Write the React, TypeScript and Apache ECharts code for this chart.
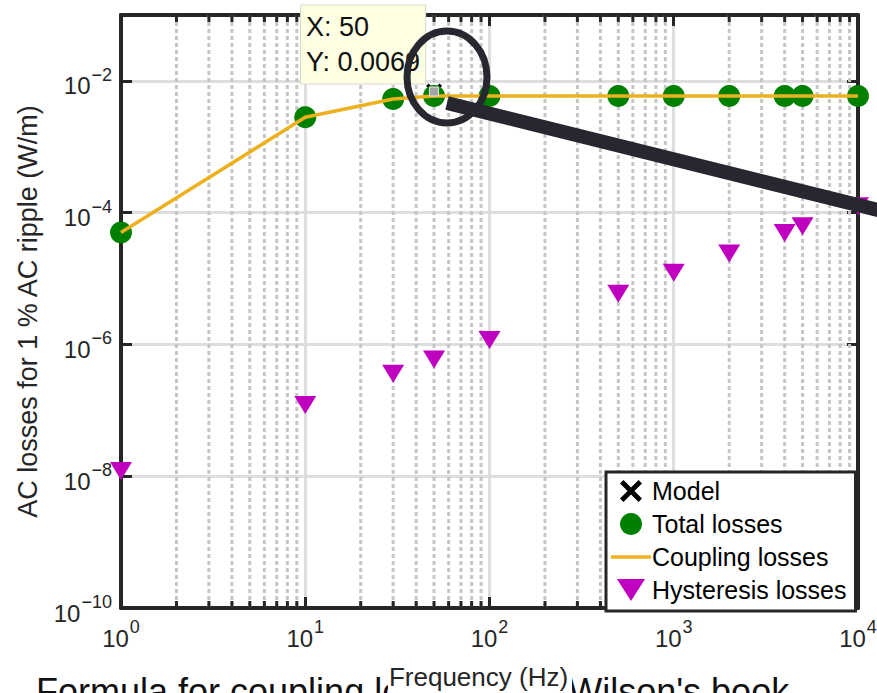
import React, { useEffect, useRef } from "react";
import * as echarts from "echarts";

// Frequency sweep (Hz) and the losses per metre for a 1 % AC ripple
const frequency = [1, 10, 30, 50, 100, 500, 1000, 2000, 4000, 5000, 10000];
const totalLosses = [5.0e-5, 2.8e-3, 5.3e-3, 5.9e-3, 5.9e-3, 5.9e-3, 5.9e-3, 5.9e-3, 5.9e-3, 5.9e-3, 5.9e-3];
const couplingLosses = [5.0e-5, 2.8e-3, 5.3e-3, 5.9e-3, 5.9e-3, 5.9e-3, 5.9e-3, 5.9e-3, 5.9e-3, 5.9e-3, 5.9e-3];
const hysteresisLosses = [1.2e-8, 1.2e-7, 3.6e-7, 5.9e-7, 1.17e-6, 5.9e-6, 1.23e-5, 2.4e-5, 4.9e-5, 6.2e-5, 1.25e-4];
const modelPoint = [50, 0.0069];

// Axis extents and the decades that carry dotted minor grid lines
const xRange = [1, 10000];
const yRange = [1e-10, 1e-1];
const decades = [1, 10, 100, 1000];
const minorMultipliers = [2, 3, 4, 5, 6, 7, 8, 9];

const FONT = "'Liberation Sans', Arial, Helvetica, sans-serif";
const AXIS_COLOR = "#262626";
const GRID_COLOR = "#dedede";
const MINOR_COLOR = "#c6c6c6";

const X_ICON = "path://M0,2.5L2.5,0L8,5.5L13.5,0L16,2.5L10.5,8L16,13.5L13.5,16L8,10.5L2.5,16L0,13.5L5.5,8Z";
const TRI_ICON = "path://M0,0L23,0L11.5,18Z";
const LINE_ICON = "path://M0,0L40,0L40,3.5L0,3.5Z";

const powerLabel = (v: number) => {
  const e = Math.round(Math.log10(v));
  return `{base|10}{exp|${e < 0 ? "\u2212" + -e : e}}`;
};

const powerRich = {
  base: { fontSize: 24, fontFamily: FONT, color: AXIS_COLOR, verticalAlign: "bottom", lineHeight: 26 },
  exp: { fontSize: 18, fontFamily: FONT, color: AXIS_COLOR, verticalAlign: "bottom", lineHeight: 18, padding: [0, 0, 14, 1] },
};

export default function App() {
  const ref = useRef<HTMLDivElement>(null);

  useEffect(() => {
    if (!ref.current) return;
    const chart = echarts.init(ref.current, null, { renderer: "svg" });
    const minorX = decades.flatMap((d) => minorMultipliers.map((m) => [m * d, yRange[0]]));

    const frame = {
      axisLine: { show: true, lineStyle: { color: AXIS_COLOR, width: 4 } },
      axisTick: { show: true, inside: true, length: 11, lineStyle: { color: AXIS_COLOR, width: 3 } },
    };

    chart.setOption({
      animation: false,
      grid: { left: 121, right: 19, top: 15, bottom: 85, containLabel: false, outerBoundsMode: "none" },
      xAxis: [
        {
          type: "log",
          logBase: 10,
          min: xRange[0],
          max: xRange[1],
          interval: 1,
          position: "bottom",
          ...frame,
          axisLabel: { margin: 16, formatter: powerLabel, rich: powerRich },
          splitLine: { show: true, lineStyle: { color: GRID_COLOR, width: 3 } },
          name: "Frequency (Hz)",
          nameLocation: "middle",
          nameGap: 56,
          nameTextStyle: {
            fontSize: 26,
            fontFamily: FONT,
            color: AXIS_COLOR,
            padding: [0, 22, 0, 0],
          },
        },
        {
          type: "log",
          logBase: 10,
          min: xRange[0],
          max: xRange[1],
          interval: 1,
          position: "top",
          ...frame,
          axisLabel: { show: false },
          splitLine: { show: false },
        },
      ],
      yAxis: [
        {
          type: "log",
          logBase: 10,
          min: yRange[0],
          max: yRange[1],
          interval: 2,
          position: "left",
          ...frame,
          axisLabel: { margin: 9, formatter: powerLabel, rich: powerRich, showMaxLabel: false, padding: [8, 0, 0, 0] },
          splitLine: { show: true, lineStyle: { color: GRID_COLOR, width: 3 } },
          name: "AC losses for 1 % AC ripple (W/m)",
          nameLocation: "middle",
          nameGap: 80,
          nameTextStyle: { fontSize: 27, fontFamily: FONT, color: AXIS_COLOR },
        },
        {
          type: "log",
          logBase: 10,
          min: yRange[0],
          max: yRange[1],
          interval: 2,
          position: "right",
          ...frame,
          axisLabel: { show: false },
          splitLine: { show: false },
        },
      ],
      legend: {
        data: [
          { name: "Model", icon: X_ICON },
          { name: "Total losses", icon: "circle" },
          { name: "Coupling losses", icon: LINE_ICON },
          { name: "Hysteresis losses", icon: TRI_ICON },
        ],
        orient: "vertical",
        left: 606,
        top: 472,
        itemWidth: 40,
        itemHeight: 22,
        itemGap: 3,
        padding: [4, 9, 6, 5],
        backgroundColor: "#ffffff",
        borderColor: AXIS_COLOR,
        borderWidth: 3,
        borderRadius: 0,
        selectedMode: false,
        textStyle: { fontSize: 25, lineHeight: 30, fontFamily: FONT, color: "#000000", padding: [0, 0, 0, -4] },
      },
      graphic: [
        {
          // caption line of the surrounding page, partly hidden behind the axis title
          type: "text",
          z: -2,
          x: 36,
          y: 673,
          style: {
            text: "Formula for coupling losses from Wilson's book",
            fontSize: 36,
            fontFamily: FONT,
            fill: "#111111",
            verticalAlign: "top",
          },
        },
        {
          type: "rect",
          z: -1,
          shape: { x: 388, y: 662, width: 184, height: 40 },
          style: { fill: "#ffffff" },
        },
        {
          type: "ellipse",
          z: 100,
          shape: { cx: 447, cy: 77, rx: 40, ry: 46 },
          style: { fill: "none", stroke: "#27272f", lineWidth: 7 },
        },
        {
          type: "line",
          z: 100,
          shape: { x1: 447, y1: 103, x2: 882, y2: 211 },
          style: { stroke: "#27272f", lineWidth: 14 },
        },
      ],
      series: [
        {
          // dotted minor grid at 2..9 of each decade, with small ticks on the top and bottom frame
          type: "custom",
          name: "minor grid",
          z: 1,
          silent: true,
          data: minorX,
          encode: { x: 0, y: 1 },
          renderItem: (_params: any, api: any) => {
            const x = api.value(0);
            const top = api.coord([x, yRange[1]]);
            const bottom = api.coord([x, yRange[0]]);
            return {
              type: "group",
              children: [
                {
                  type: "line",
                  shape: { x1: top[0], y1: top[1], x2: bottom[0], y2: bottom[1] },
                  style: { stroke: MINOR_COLOR, lineWidth: 3, lineDash: [4, 3] },
                },
                {
                  type: "line",
                  shape: { x1: top[0], y1: top[1], x2: top[0], y2: top[1] + 7 },
                  style: { stroke: AXIS_COLOR, lineWidth: 3 },
                },
                {
                  type: "line",
                  shape: { x1: bottom[0], y1: bottom[1], x2: bottom[0], y2: bottom[1] - 7 },
                  style: { stroke: AXIS_COLOR, lineWidth: 3 },
                },
              ],
            };
          },
        },
        {
          type: "scatter",
          name: "Model",
          symbol: X_ICON,
          symbolSize: 16,
          itemStyle: { color: "#000000", opacity: 1 },
          data: [modelPoint],
          markPoint: {
            symbol: "rect",
            symbolSize: 9,
            itemStyle: { color: "#a4a4a4", borderColor: "#e6e6e6", borderWidth: 1, opacity: 1 },
            label: {
              show: true,
              formatter: `X: ${modelPoint[0]}\nY: ${modelPoint[1]}`,
              position: [-128, -3],
              align: "left",
              verticalAlign: "bottom",
              fontSize: 27,
              lineHeight: 35,
              fontFamily: FONT,
              color: "#111111",
              backgroundColor: "#ffffe4",
              borderColor: "#d9d9c9",
              borderWidth: 1,
              padding: [4, 5, 4, 5],
            },
            data: [{ coord: modelPoint }],
          },
        },
        {
          type: "scatter",
          name: "Total losses",
          symbol: "circle",
          symbolSize: 22,
          itemStyle: { color: "#008000", opacity: 1 },
          data: frequency.map((f, i) => [f, totalLosses[i]]),
        },
        {
          type: "line",
          name: "Coupling losses",
          symbol: "none",
          lineStyle: { color: "#EDB120", width: 3.5 },
          itemStyle: { color: "#EDB120" },
          data: frequency.map((f, i) => [f, couplingLosses[i]]),
        },
        {
          type: "scatter",
          name: "Hysteresis losses",
          symbol: TRI_ICON,
          symbolSize: [22, 18],
          itemStyle: { color: "#bf00bf", opacity: 1 },
          data: frequency.map((f, i) => [f, hysteresisLosses[i]]),
        },
      ],
    });

    return () => chart.dispose();
  }, []);

  return (
    <div
      ref={ref}
      style={{ position: "absolute", left: 0, top: 0, width: 877, height: 693, background: "#ffffff" }}
    />
  );
}
